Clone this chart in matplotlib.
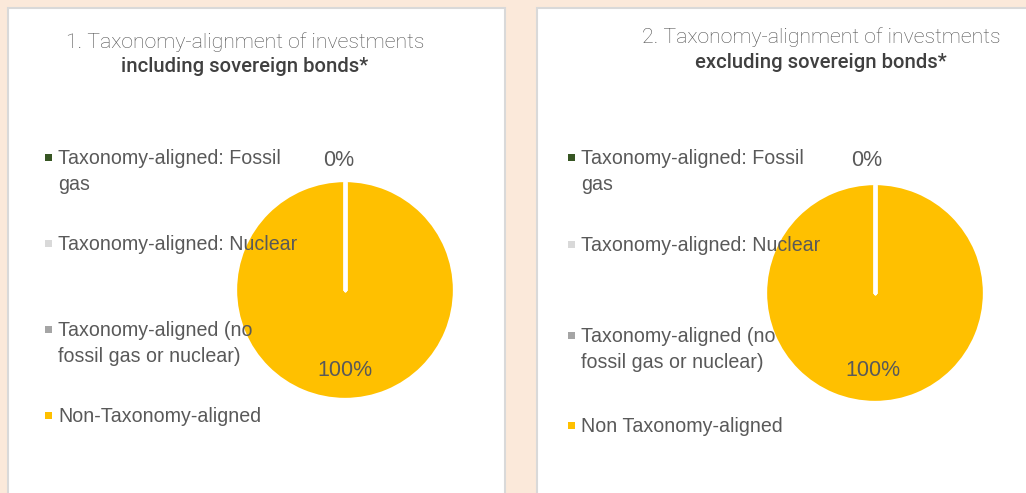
import matplotlib
matplotlib.use("Agg")
import matplotlib.pyplot as plt
from matplotlib.patches import Rectangle
import numpy as np

# ---- data ----
categories_1 = ["Taxonomy-aligned: Fossil\ngas", "Taxonomy-aligned: Nuclear",
                "Taxonomy-aligned (no\nfossil gas or nuclear)", "Non-Taxonomy-aligned"]
categories_2 = ["Taxonomy-aligned: Fossil\ngas", "Taxonomy-aligned: Nuclear",
                "Taxonomy-aligned (no\nfossil gas or nuclear)", "Non Taxonomy-aligned"]
values_1 = [0, 0, 0, 100]
values_2 = [0, 0, 0, 100]
colors = ["#375623", "#D9D9D9", "#A5A5A5", "#FFC000"]
title_1 = ("1. Taxonomy-alignment of investments", "including sovereign bonds*")
title_2 = ("2. Taxonomy-alignment of investments", "excluding sovereign bonds*")

W, H = 1026, 493
fig = plt.figure(figsize=(W / 100, H / 100), dpi=100)
fig.patch.set_facecolor("#FBE9DA")

bg = fig.add_axes([0, 0, 1, 1], zorder=0)
bg.set_xlim(0, W)
bg.set_ylim(H, 0)
bg.axis("off")
# panels
bg.add_patch(Rectangle((8, 8), 497, 500, facecolor="white", edgecolor="#D9D9D9", lw=1.5))
bg.add_patch(Rectangle((537, 8), 500, 500, facecolor="white", edgecolor="#D9D9D9", lw=1.5))

# overlay for texts (drawn above pies)
ov = fig.add_axes([0, 0, 1, 1], zorder=10)
ov.set_xlim(0, W)
ov.set_ylim(H, 0)
ov.axis("off")
ov.patch.set_alpha(0)

text_col = "#595959"
legend_font = "Liberation Sans"
title_font = "Roboto"


def draw_panel(values, cats, title, cx, cy, r, title_x, title_y, leg_x, leg_ys,
               zero_lab, full_lab):
    ax = fig.add_axes([(cx - r) / W, 1 - (cy + r) / H, 2 * r / W, 2 * r / H], zorder=5)
    wedges, _ = ax.pie(values, colors=colors, startangle=90, counterclock=False,
                       radius=1.0, wedgeprops=dict(edgecolor="none"))
    # white separators at each wedge boundary
    for w in wedges:
        for th in (w.theta1, w.theta2):
            t = np.deg2rad(th)
            ax.plot([0, np.cos(t)], [0, np.sin(t)], color="white", lw=2.5,
                    solid_capstyle="round", zorder=3)
    ax.set_xlim(-1.02, 1.02)
    ax.set_ylim(-1.02, 1.02)
    ax.set_aspect("equal")
    ax.axis("off")
    total = sum(values)
    seen = set()
    for v in values:
        pct = f"{v / total * 100:.0f}%"
        if pct in seen:
            continue
        seen.add(pct)
        pos = zero_lab if v == 0 else full_lab
        ov.text(pos[0], pos[1], pct, ha="center", va="center",
                fontsize=15.5, color=text_col, family=legend_font)
    # title
    ov.text(title_x, title_y, title[0], ha="center", va="center", fontsize=15.3,
            color="#505050", family=title_font, fontweight="light")
    ov.text(title_x, title_y + 25, title[1], ha="center", va="center", fontsize=14.6,
            color="#404040", family=title_font, fontweight="medium")
    # legend
    for cat, col, y in zip(cats, colors, leg_ys):
        ov.add_patch(Rectangle((leg_x - 13, y - 3.5), 7, 7, facecolor=col,
                               edgecolor="none"))
        ov.text(leg_x, y - 8, cat, ha="left", va="top", fontsize=14.1,
                color=text_col, family=legend_font, linespacing=1.47)


draw_panel(values_1, categories_1, title_1, 345, 290, 110, 245, 42, 58,
           [157, 243, 329, 415], (339, 160), (345, 370))
draw_panel(values_2, categories_2, title_2, 875, 293, 110, 821, 37, 581,
           [157, 244, 335, 425], (867, 160), (873, 370))

fig.savefig("out.png", dpi=100, facecolor=fig.get_facecolor())
